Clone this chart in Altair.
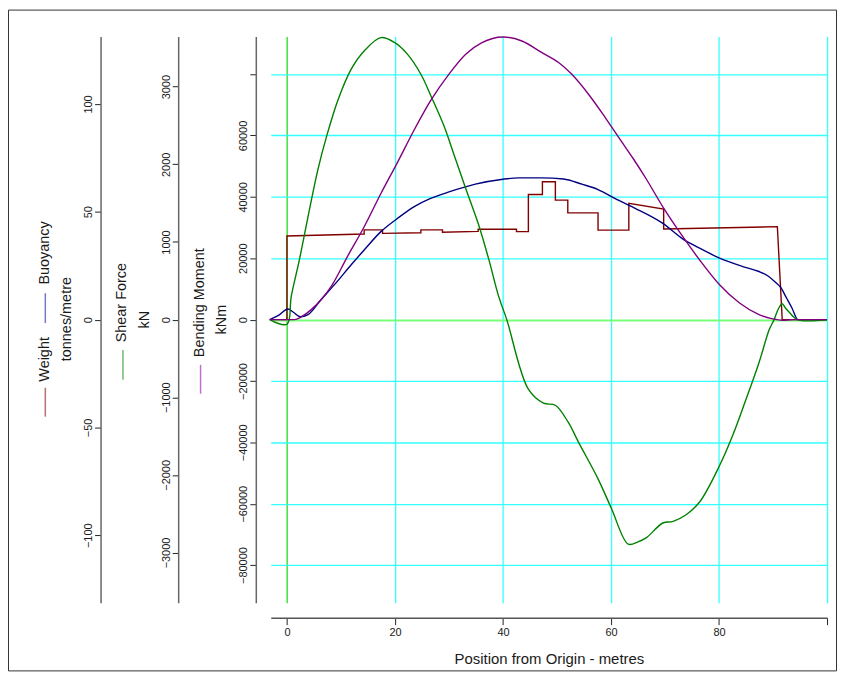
import altair as alt
import pandas as pd

# ---------------- data ----------------
weight_x = [-3, 0, 0, 14.3, 14.3, 17.7, 17.7, 24.8, 24.8, 28.8, 28.8, 35.4, 35.4, 42.5, 42.5,
            44.7, 44.7, 47.3, 47.3, 49.7, 49.7, 52.0, 52.0, 57.6, 57.6, 63.3, 63.3, 69.75, 69.75,
            90.8, 91.7, 100]
weight_t = [0, 0, 38.8, 39.7, 41.6, 41.6, 40.0, 40.3, 41.6, 41.6, 40.5, 40.9, 41.9, 41.9, 40.8,
            40.8, 58.0, 58.0, 63.9, 63.9, 55.4, 55.4, 49.5, 49.5, 41.5, 41.5, 53.9, 51.3, 42.0,
            43.1, 0, 0]

buoy_x = [-3.2, -1.65, 0.2, 1.2, 2.5, 3.9, 6.3, 8.8, 11.9, 14.3, 17.4, 20.5, 23.5, 26.6, 30.0,
          34.9, 40.0, 42.9, 47.2, 51.2, 54.6, 57.6, 60.7, 64.3, 69.6, 73.4, 76.4, 80.1, 84.4,
          87.4, 89.2, 90.5, 91.4, 92.5, 93.5, 94.6, 100]
buoy_t = [0, 1.8, 4.9, 3.4, 1.3, 2.3, 9.2, 16.2, 25.4, 32.3, 40.8, 47.0, 52.3, 56.2, 59.2,
          62.8, 65.1, 65.7, 65.7, 65.2, 62.8, 60.3, 56.2, 51.8, 44.6, 37.2, 33.1, 28.5, 24.6,
          22.3, 20.0, 17.2, 15.0, 10.0, 5.4, 0, 0]

shear_x = [-3.2, 0.0, 0.8, 2.3, 3.9, 5.7, 7.3, 9.4, 11.9, 14.3, 17.4, 19.9, 22.3, 24.8, 26.6,
           29.1, 31.0, 33.1, 35.4, 37.4, 39.2, 40.7, 44.7, 47.5, 49.7, 52.1, 54.0, 57.6, 60.1,
           63.2, 65.0, 66.5, 69.6, 71.5, 73.9, 76.4, 80.1, 82.5, 85.0, 87.4, 89.3, 90.2, 91.0,
           91.7, 92.3, 93.0, 94.5, 100]
shear_kn = [0, -60, 299, 769, 1324, 1923, 2350, 2820, 3227, 3461, 3632, 3570, 3419, 3160, 2890,
            2490, 2110, 1690, 1240, 769, 299, 0, -897, -1077, -1103, -1325, -1581, -2051, -2436,
            -2893, -2863, -2812, -2620, -2599, -2513, -2350, -1880, -1496, -1026, -555, -128, 0,
            140, 205, 150, 95, 0, 0]

moment_x = [-3.2, 1.4, 2.65, 4.5, 8.2, 11.2, 14.3, 17.4, 20.5, 23.5, 26.6, 30.0, 33.1, 36.1,
            40.0, 43.5, 47.2, 50.3, 52.7, 55.8, 58.9, 61.9, 64.1, 66.5, 69.6, 73.3, 76.4, 80.1,
            83.8, 87.4, 89.9, 91.7, 93.6, 100]
moment_knm = [0, 0, 876, 3243, 10800, 20530, 30260, 41090, 51340, 61620, 71350, 80010, 86490,
              90250, 92100, 90800, 87010, 83770, 80010, 73520, 65930, 58150, 52500, 45900, 36740,
              27010, 19460, 11350, 5400, 1620, 230, -230, 0, 0]

x_ticks = [0, 20, 40, 60, 80, 100]
w_ticks = [-100, -50, 0, 50, 100]
sf_ticks = [-3000, -2000, -1000, 0, 1000, 2000, 3000]
bm_ticks = [-80000, -60000, -40000, -20000, 0, 20000, 40000, 60000, 80000]

w_domain = [-131.3, 131.3]
sf_domain = [-3647, 3647]
bm_domain = [-92270, 92270]

# ---------------- styling ----------------
FONT = "Liberation Sans"
TXT = "#1a1a1a"
W, H = 559, 569


def table(xs, ys):
    return pd.DataFrame({"x": xs, "y": ys, "i": list(range(len(xs)))})


x_enc = alt.X(
    "x:Q",
    scale=alt.Scale(domain=[-3, 100], nice=False, zero=False),
    axis=alt.Axis(
        title="Position from Origin - metres", values=x_ticks, orient="bottom", offset=15,
        format="d", grid=True,
        gridColor={"condition": {"test": "datum.value === 0", "value": "#22dd22"}, "value": "#33ffff"},
        gridWidth=1.3, tickSize=7, tickColor="#222", domainColor="#555", domainWidth=1.5,
        labelExpr="datum.value === 100 ? '' : datum.label", labelFlush=False,
        labelFont=FONT, labelFontSize=11, labelColor=TXT, labelPadding=2,
        titleFont=FONT, titleFontSize=15, titleFontWeight="normal", titleColor=TXT,
        titleBaseline="alphabetic", titleY=46, titleX=W / 2,
    ),
)


def y_axis(ticks, offset, grid=False, label_expr=None):
    kw = dict(
        title=None, orient="left", offset=offset, values=ticks, format="d",
        labelAngle=270, labelAlign="center", labelBaseline="alphabetic", labelPadding=3,
        labelOverlap=False, labelFlush=False,
        labelFont=FONT, labelFontSize=11, labelColor=TXT,
        tickSize=6, tickColor="#222", domainColor="#666", domainWidth=1.5, grid=grid,
    )
    if grid:
        kw["gridColor"] = {"condition": {"test": "datum.value === 0", "value": "#77ff77"}, "value": "#33ffff"}
        kw["gridWidth"] = {"condition": {"test": "datum.value === 0", "value": 2}, "value": 1.3}
    if label_expr:
        kw["labelExpr"] = label_expr
    return alt.Axis(**kw)


def series(xs, ys, color, domain, axis, interp):
    return alt.Chart(table(xs, ys)).mark_line(
        color=color, strokeWidth=1.4, interpolate=interp
    ).encode(
        x=x_enc,
        y=alt.Y("y:Q", scale=alt.Scale(domain=domain, nice=False, zero=False), axis=axis),
        order="i:Q",
    )


one = alt.Data(values=[{"k": 0}])


def vtext(txt, x, y, size=14.5):
    return alt.Chart(one).mark_text(
        angle=270, align="center", baseline="alphabetic", font=FONT, fontSize=size, color=TXT
    ).encode(x=alt.value(x), y=alt.value(y), text=alt.value(txt))


def swatch(color, x, y1, y2):
    return alt.Chart(one).mark_rule(color=color, strokeWidth=1.5).encode(
        x=alt.value(x), y=alt.value(y1), y2=alt.value(y2)
    )


frame = alt.Chart(one).mark_rect(fill="white", fillOpacity=0, stroke="#333", strokeWidth=1).encode(
    x=alt.value(-263.5), x2=alt.value(568.5), y=alt.value(-26.5), y2=alt.value(637.5)
)

# axis positions relative to plot origin: weight -171, shear -93, moment -15
labels = [
    vtext("Weight", -223, 324.5), swatch("#b87070", -226.5, 353, 382),
    vtext("Buoyancy", -223, 217.5), swatch("#7878c8", -226.5, 258, 288),
    vtext("tonnes/metre", -200.5, 284),
    vtext("Shear Force", -145, 267.5), swatch("#70b870", -148.5, 315, 345),
    vtext("kN", -122.5, 284.5),
    vtext("Bending Moment", -67, 267.5), swatch("#c070c8", -70.5, 330, 359),
    vtext("kNm", -44.5, 284.5),
]

weight = series(weight_x, weight_t, "#800000", w_domain, y_axis(w_ticks, 171), "linear")
buoy = series(buoy_x, buoy_t, "#000080", w_domain, None, "monotone")
shear = series(shear_x, shear_kn, "#008000", sf_domain, y_axis(sf_ticks, 93), "catmull-rom")
moment = series(moment_x, moment_knm, "#800080", bm_domain,
                y_axis(bm_ticks, 15, grid=True,
                       label_expr="datum.value === 80000 ? '' : datum.label"),
                "monotone")

chart = alt.layer(
    weight, buoy, shear, moment, frame, *labels
).resolve_scale(y="independent").properties(
    width=W, height=H, padding=0, background="white"
).configure_view(stroke=None)

chart.save("out.html", embed_options={"renderer": "svg", "actions": False})
